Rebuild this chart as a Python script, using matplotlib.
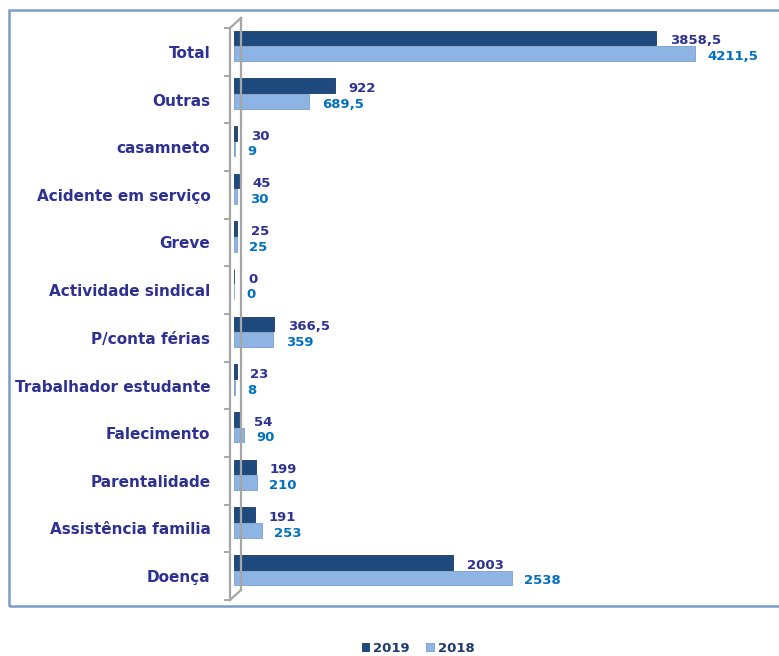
import matplotlib.pyplot as plt
from matplotlib.patches import Rectangle
from matplotlib.lines import Line2D
from matplotlib.transforms import blended_transform_factory

# categories top -> bottom
categories = ['Total', 'Outras', 'casamneto', 'Acidente em serviço', 'Greve',
              'Actividade sindical', 'P/conta férias', 'Trabalhador estudante',
              'Falecimento', 'Parentalidade', 'Assistência familia', 'Doença']
v2019 = [3858.5, 922, 30, 45, 25, 0, 366.5, 23, 54, 199, 191, 2003]
v2018 = [4211.5, 689.5, 9, 30, 25, 0, 359, 8, 90, 210, 253, 2538]

dark = '#1F4A7E'
light = '#8DB4E2'
lab_col = '#2E3192'
c2019 = '#2E3192'
c2018 = '#0070C0'
wall = '#A6A6A6'

plt.rcParams['font.family'] = ['DejaVu Sans']

W, H = 779, 656
fig = plt.figure(figsize=(W / 100, H / 100), dpi=100)

def fx(px):
    return px / W

def fy(py):
    return 1 - py / H

# axes = front face of the wall area
ax = fig.add_axes([fx(234), fy(600), fx(779) - fx(234), fy(28) - fy(600)])
ax.set_xlim(0, 4980)
ax.set_ylim(len(categories) - 0.5, -0.5)

ys = list(range(len(categories)))
bh = 0.31
ax.barh([y - 0.29 for y in ys], v2019, height=bh, color=dark, edgecolor='#173B66', linewidth=0.6, label='2019')
ax.barh([y + 0.04 for y in ys], v2018, height=bh, color=light, edgecolor='#7A9FCB', linewidth=0.6, label='2018')

for y, a, b in zip(ys, v2019, v2018):
    sa = f'{a:g}'.replace('.', ',')
    sb = f'{b:g}'.replace('.', ',')
    ax.annotate(sa, (a, y - 0.29), xytext=(10, -2), textcoords='offset points',
                ha='left', va='center', fontsize=9.5, fontweight='bold', color=c2019)
    ax.annotate(sb, (b, y + 0.04), xytext=(9, -2), textcoords='offset points',
                ha='left', va='center', fontsize=9.5, fontweight='bold', color=c2018)

ax.set_yticks(ys)
ax.set_yticklabels(categories, fontsize=11, fontweight='bold', color=lab_col)
ax.tick_params(axis='y', length=0, pad=17)
ax.set_xticks([])
for s in ax.spines.values():
    s.set_visible(False)
ax.patch.set_alpha(0)

# wall (pseudo 3D axis)
fig.add_artist(Line2D([fx(230), fx(230)], [fy(28), fy(600)], color=wall, lw=1.6))
fig.add_artist(Line2D([fx(241), fx(241)], [fy(18), fy(590)], color=wall, lw=1.6))
fig.add_artist(Line2D([fx(230), fx(241)], [fy(28), fy(18)], color=wall, lw=1.6))
fig.add_artist(Line2D([fx(230), fx(241)], [fy(600), fy(590)], color=wall, lw=1.6))
tr = blended_transform_factory(fig.transFigure, ax.transData)
for k in range(len(categories) + 1):
    fig.add_artist(Line2D([fx(225), fx(230)], [k - 0.5, k - 0.5], color=wall, lw=1.4, transform=tr))

# chart border
fig.add_artist(Rectangle((fx(9), fy(606)), 1.0, fy(10) - fy(606), fill=False,
                         edgecolor='#7A9CC8', lw=1.8, transform=fig.transFigure))

leg = fig.legend(loc='center', bbox_to_anchor=(fx(418), fy(648)), ncol=2, frameon=False,
                 handlelength=0.6, handleheight=0.6, handletextpad=0.3, columnspacing=1.2,
                 prop={'size': 9.5, 'weight': 'bold'})
for t in leg.get_texts():
    t.set_color('#1F3A6E')

fig.savefig('out.png', dpi=100)
